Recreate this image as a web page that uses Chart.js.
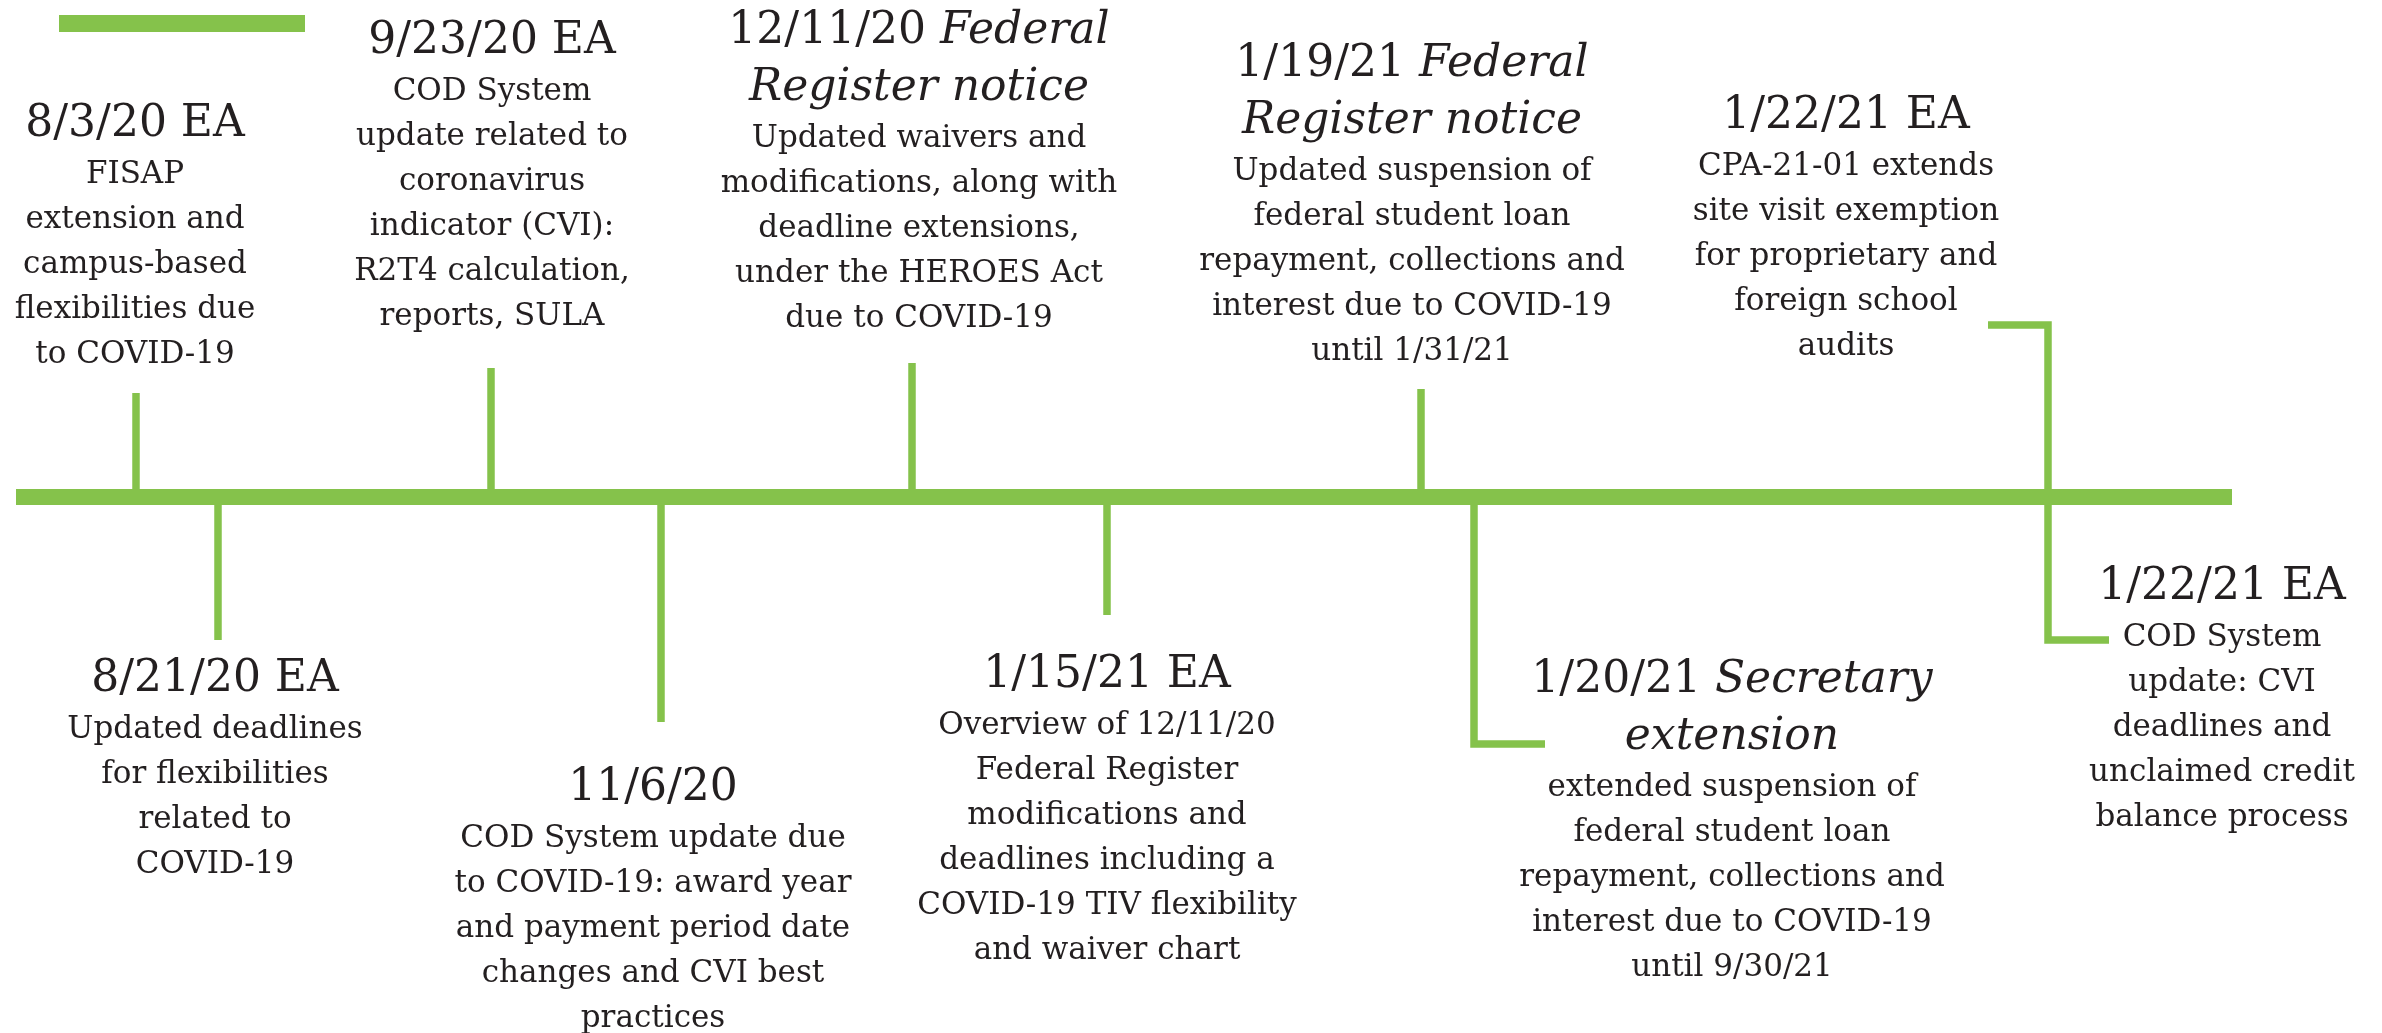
<!DOCTYPE html>
<html>
<head>
<meta charset="utf-8">
<script src="https://cdn.jsdelivr.net/npm/chart.js@4.4.1/dist/chart.umd.min.js"></script>
<style>
    html, body { margin: 0; padding: 0; background: #ffffff; }
    #timelineChart { display: block; }
</style>
</head>
<body>
<canvas id="timelineChart" width="2382" height="1033"></canvas>
<script>
// Timeline events, in date order
const eventDates = ['8/3/20', '8/21/20', '9/23/20', '11/6/20', '12/11/20', '1/15/21', '1/19/21', '1/20/21', '1/22/21', '1/22/21'];
const eventTypes = ['EA', 'EA', 'EA', '', 'Federal Register notice', 'EA', 'Federal Register notice', 'Secretary extension', 'EA', 'EA'];
const eventBodies = [
    ['FISAP', 'extension and', 'campus-based', 'flexibilities due', 'to COVID-19'],
    ['Updated deadlines', 'for flexibilities', 'related to', 'COVID-19'],
    ['COD System', 'update related to', 'coronavirus', 'indicator (CVI):', 'R2T4 calculation,', 'reports, SULA'],
    ['COD System update due', 'to COVID-19: award year', 'and payment period date', 'changes and CVI best', 'practices'],
    ['Updated waivers and', 'modifications, along with', 'deadline extensions,', 'under the HEROES Act', 'due to COVID-19'],
    ['Overview of 12/11/20', 'Federal Register', 'modifications and', 'deadlines including a', 'COVID-19 TIV flexibility', 'and waiver chart'],
    ['Updated suspension of', 'federal student loan', 'repayment, collections and', 'interest due to COVID-19', 'until 1/31/21'],
    ['extended suspension of', 'federal student loan', 'repayment, collections and', 'interest due to COVID-19', 'until 9/30/21'],
    ['CPA-21-01 extends', 'site visit exemption', 'for proprietary and', 'foreign school', 'audits'],
    ['COD System', 'update: CVI', 'deadlines and', 'unclaimed credit', 'balance process']
];

// Where each event sits on the timeline, and how far its connector reaches
const eventPositions = [136, 218, 491, 661, 912, 1107, 1421, 1474, 2048, 2048];
const stemReach = [104, -143, 129, -225, 134, -118, 108, -247, 172, -143];
const elbowReach = [0, 0, 0, 0, 0, 0, 0, 71, -60, 61];

const timelineStart = 16;
const timelineEnd = 2232;
const accentBar = [59, 305];

// Label anchors (center x, first baseline y) in the same units
const labelX = [135, 215, 492, 653, 919, 1107, 1412, 1732, 1846, 2222];
const labelY = [361, -194, 444, -303, 454, -190, 421, -195, 369, -102];

const GREEN = '#85c24b';
const INK = '#231f20';
const FONT = '"DejaVu Serif", "Liberation Serif", serif';

function connectorPoints(i) {
    const pts = [
        { x: eventPositions[i], y: 0 },
        { x: eventPositions[i], y: stemReach[i] }
    ];
    if (elbowReach[i] !== 0) {
        pts.push({ x: eventPositions[i] + elbowReach[i], y: stemReach[i] });
    }
    return pts;
}

function titleLines(i) {
    const type = eventTypes[i];
    if (type === '' ) return [[{ text: eventDates[i], italic: false }]];
    if (type === 'EA') return [[{ text: eventDates[i] + ' EA', italic: false }]];
    const words = type.split(' ');
    const lines = [[{ text: eventDates[i] + ' ', italic: false }, { text: words[0], italic: true }]];
    if (words.length > 1) {
        lines.push([{ text: words.slice(1).join(' '), italic: true }]);
    }
    return lines;
}

const labelPlugin = {
    id: 'timelineLabels',
    afterDatasetsDraw(chart) {
        const ctx = chart.ctx;
        const xs = chart.scales.x;
        const ys = chart.scales.y;
        ctx.save();
        ctx.fillStyle = INK;
        ctx.textBaseline = 'alphabetic';
        ctx.textAlign = 'left';
        eventDates.forEach((d, i) => {
            const cx = xs.getPixelForValue(labelX[i]);
            let y = ys.getPixelForValue(labelY[i]);
            const lines = titleLines(i);
            lines.forEach((segs, li) => {
                let total = 0;
                const widths = segs.map(s => {
                    ctx.font = (s.italic ? 'italic ' : '') + '44px ' + FONT;
                    const w = ctx.measureText(s.text).width;
                    total += w;
                    return w;
                });
                let x = cx - total / 2;
                segs.forEach((s, si) => {
                    ctx.font = (s.italic ? 'italic ' : '') + '44px ' + FONT;
                    ctx.fillText(s.text, x, y);
                    x += widths[si];
                });
                if (li < lines.length - 1) y += 57;
            });
            y += 47;
            ctx.font = '31px ' + FONT;
            ctx.textAlign = 'center';
            eventBodies[i].forEach(line => {
                ctx.fillText(line, cx, y);
                y += 45;
            });
            ctx.textAlign = 'left';
        });
        ctx.restore();
    }
};

const lineStyle = {
    borderColor: GREEN,
    pointRadius: 0,
    fill: false,
    tension: 0,
    borderCapStyle: 'butt',
    borderJoinStyle: 'miter'
};

const datasets = [
    Object.assign({ data: [{ x: timelineStart, y: 0 }, { x: timelineEnd, y: 0 }], borderWidth: 16 }, lineStyle),
    Object.assign({ data: [{ x: accentBar[0], y: 473.5 }, { x: accentBar[1], y: 473.5 }], borderWidth: 17 }, lineStyle)
];
eventDates.forEach((d, i) => {
    datasets.push(Object.assign({ data: connectorPoints(i), borderWidth: 7.5 }, lineStyle));
});

new Chart(document.getElementById('timelineChart'), {
    type: 'line',
    data: { datasets: datasets },
    options: {
        responsive: false,
        animation: false,
        devicePixelRatio: 1,
        layout: { padding: 0 },
        plugins: {
            legend: { display: false },
            tooltip: { enabled: false }
        },
        scales: {
            x: { type: 'linear', min: 0, max: 2382, display: false },
            y: { type: 'linear', min: -536, max: 497, display: false }
        }
    },
    plugins: [labelPlugin]
});
</script>
</body>
</html>
